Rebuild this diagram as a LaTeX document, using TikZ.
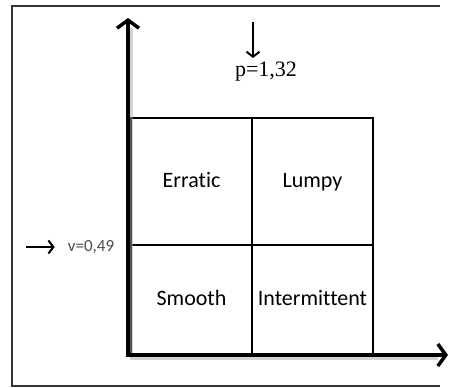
\documentclass[tikz,border=0pt]{standalone}
\usepackage{fontspec}
\setmainfont{Carlito}[Ligatures=NoCommon]
\newfontfamily\numfont{Liberation Serif}
\usetikzlibrary{arrows.meta,positioning}

\tikzset{
  frame/.style={draw=black!80, line width=1.5pt},
  cell/.style={draw, line width=2pt, outer sep=0pt, inner sep=0pt,
    minimum width=121pt, text height=15pt, text depth=4pt,
    font=\fontsize{22}{26}\selectfont},
  axis/.style={line width=4pt, line cap=rect,
    -{Straight Barb[length=8pt,width=22pt,line width=3.5pt]}},
  axisshadow/.style={draw=black!35, opacity=0.5, line width=5pt},
  pointer/.style={line width=1.8pt,
    -{Straight Barb[length=5pt,width=13pt,line width=2pt]}}
}

\begin{document}
\begin{tikzpicture}[x=1pt,y=-1pt]
  \useasboundingbox (0,0) rectangle (450,388);
  \draw[frame] (440,6) -- (12,6) -- (12,386) -- (440,386);

  % the four demand classes
  \node[cell, minimum height=127pt] (erratic) at (191.5,181.5) {Erratic};
  \node[cell, minimum height=127pt, right=0pt of erratic] (lumpy) {Lumpy};
  \node[cell, minimum height=110pt, below=0pt of erratic] (smooth) {Smooth};
  \node[cell, minimum height=110pt, right=0pt of smooth] (intermittent) {Intermittent};

  % axes
  \coordinate (origin) at (128,355);
  \coordinate (ytop) at (128,18);
  \coordinate (xend) at (448,355);
  \draw[axisshadow] ([shift={(2,2)}]origin) -- ([shift={(2,10)}]ytop);
  \draw[axisshadow] ([shift={(2,2)}]origin) -- ([shift={(-10,2)}]xend);
  \draw[axis] (origin) -- (ytop);
  \draw[axis] (origin) -- (xend);

  % thresholds
  \node[font=\numfont\fontsize{22}{26}\selectfont] (p) at (266,72) {p=1,32};
  \coordinate (pstart) at (253,22);
  \coordinate (pend) at (253,58);
  \draw[pointer] (pstart) -- (pend);

  \node[font=\fontsize{17}{20}\selectfont, text=black!70, inner sep=0pt] (v) at (91,247) {v=0,49};
  \coordinate (vstart) at (26,247);
  \draw[pointer] (vstart) -- ([xshift=-13pt]v.west);
\end{tikzpicture}
\end{document}
